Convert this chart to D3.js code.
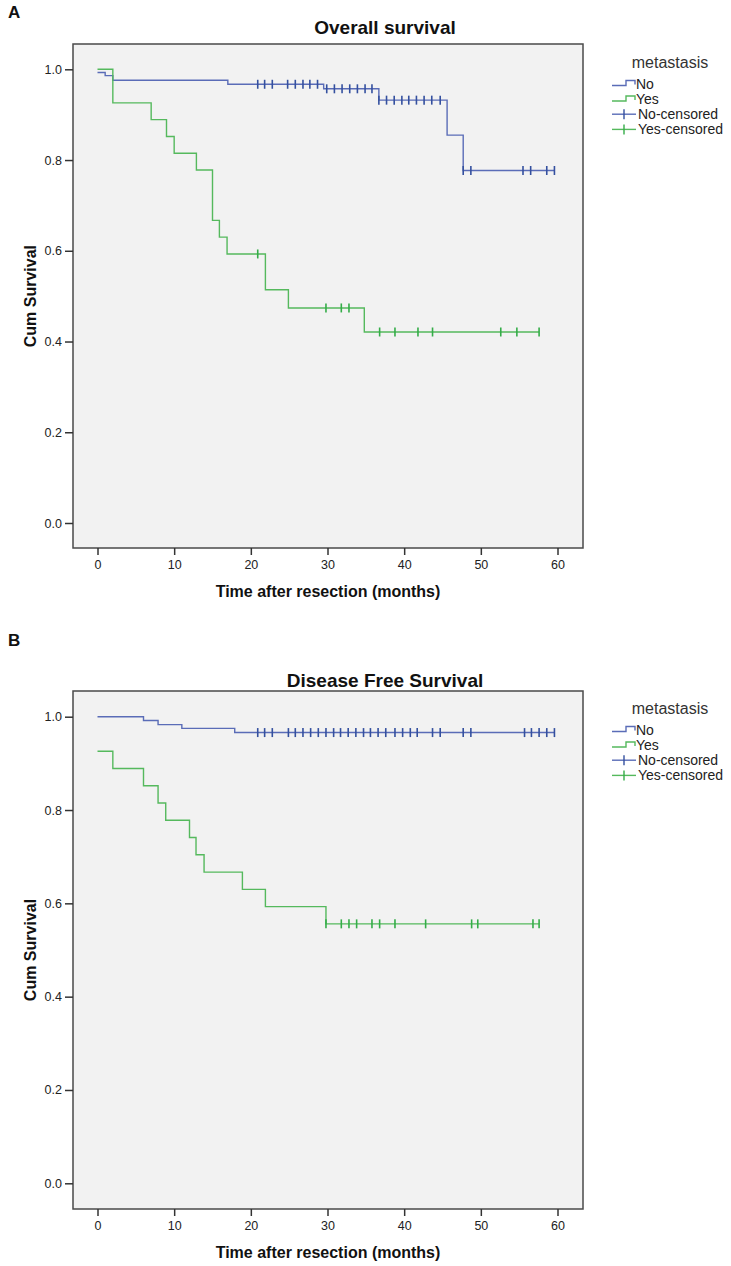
<!DOCTYPE html>
<html>
<head>
<meta charset="utf-8">
<script src="https://cdn.jsdelivr.net/npm/d3@7"></script>
<style>
  html, body { margin: 0; padding: 0; background: #ffffff; }
  svg { display: block; font-family: "Liberation Sans", Arial, sans-serif; }
</style>
</head>
<body>
<svg id="chart" width="731" height="1266"></svg>
<script>
// ---------------- data ----------------
const xTicks = [0, 10, 20, 30, 40, 50, 60];
const yTicks = [0.0, 0.2, 0.4, 0.6, 0.8, 1.0];
const groups = ["No", "Yes"];
const legendTitle = "metastasis";
const legendLabels = ["No", "Yes", "No-censored", "Yes-censored"];

// A: Overall survival
const osNoTimes = [0, 1, 2, 17, 29.5, 36.7, 45.6, 47.7];
const osNoSurv  = [0.993, 0.986, 0.976, 0.967, 0.957, 0.932, 0.855, 0.777];
const osNoCensored = [20.9, 21.8, 22.8, 24.8, 25.8, 26.8, 27.7, 28.7, 29.9, 30.9, 31.9, 32.9, 33.9, 34.9, 35.8,
  36.7, 37.7, 38.7, 39.7, 40.6, 41.6, 42.6, 43.6, 44.7, 47.7, 48.7, 55.5, 56.5, 58.6, 59.6];
const osYesTimes = [0, 2, 7, 9, 10, 12.9, 15, 15.9, 16.9, 21.9, 24.9, 34.8];
const osYesSurv  = [1.0, 0.926, 0.889, 0.852, 0.815, 0.778, 0.667, 0.630, 0.593, 0.514, 0.474, 0.421];
const osYesCensored = [20.9, 29.8, 31.8, 32.8, 36.8, 38.8, 41.8, 43.7, 52.6, 54.7, 57.6];

// B: Disease free survival
const dfsNoTimes = [0, 6, 7.9, 11, 17.9];
const dfsNoSurv  = [1.0, 0.992, 0.983, 0.975, 0.966];
const dfsNoCensored = [20.9, 21.8, 22.8, 24.9, 25.8, 26.8, 27.8, 28.8, 29.8, 30.8, 31.7, 32.7, 33.7, 34.7, 35.6,
  36.6, 37.6, 38.8, 39.8, 40.8, 41.7, 43.7, 44.7, 47.7, 48.7, 55.7, 56.6, 57.6, 58.6, 59.6];
const dfsYesTimes = [0, 2, 6, 7.9, 8.9, 12, 12.85, 13.9, 18.9, 21.9, 29.8];
const dfsYesSurv  = [0.926, 0.889, 0.852, 0.815, 0.778, 0.741, 0.704, 0.667, 0.630, 0.593, 0.556];
const dfsYesCensored = [29.8, 31.8, 32.8, 33.8, 35.8, 36.8, 38.8, 42.8, 48.8, 49.6, 56.8, 57.6];

// ---------------- styles ----------------
const lineColor = { No: "#5a6cb7", Yes: "#55b95d" };
const censorColor = { No: "#34509f", Yes: "#34ad48" };

const panels = [
  { letter: "A", title: "Overall survival", titleY: 34, letterY: 18,
    boxTop: 44, boxBottom: 548, y0: 523, y1: 69.3, legendY: 0,
    series: [
      { g: "No", t: osNoTimes, s: osNoSurv, c: osNoCensored },
      { g: "Yes", t: osYesTimes, s: osYesSurv, c: osYesCensored } ] },
  { letter: "B", title: "Disease Free Survival", titleY: 687, letterY: 646,
    boxTop: 691, boxBottom: 1209, y0: 1183.3, y1: 716.7, legendY: 646,
    series: [
      { g: "No", t: dfsNoTimes, s: dfsNoSurv, c: dfsNoCensored },
      { g: "Yes", t: dfsYesTimes, s: dfsYesSurv, c: dfsYesCensored } ] }
];

const svg = d3.select("#chart");
const boxLeft = 73, boxRight = 583;
const x = d3.scaleLinear().domain([0, 60]).range([97.5, 557.5]);

panels.forEach(p => {
  const y = d3.scaleLinear().domain([0, 1]).range([p.y0, p.y1]);
  const g = svg.append("g");

  // panel letter
  g.append("text").attr("x", 8).attr("y", p.letterY)
    .attr("font-size", 17).attr("font-weight", "bold").attr("fill", "#111").text(p.letter);

  // title
  g.append("text").attr("x", 385).attr("y", p.titleY).attr("text-anchor", "middle")
    .attr("font-size", 19).attr("font-weight", "bold").attr("fill", "#111").text(p.title);

  // plot box
  g.append("rect").attr("x", boxLeft).attr("y", p.boxTop)
    .attr("width", boxRight - boxLeft).attr("height", p.boxBottom - p.boxTop)
    .attr("fill", "#f2f2f2").attr("stroke", "#4a4a4a").attr("stroke-width", 1.5);

  // axes
  const yAxis = d3.axisLeft(y).tickValues(yTicks).tickFormat(d3.format(".1f")).tickSize(8).tickPadding(3);
  const ya = g.append("g").attr("transform", `translate(${boxLeft},0)`).call(yAxis);
  const xAxis = d3.axisBottom(x).tickValues(xTicks).tickFormat(d3.format("d")).tickSize(7).tickPadding(5);
  const xa = g.append("g").attr("transform", `translate(0,${p.boxBottom})`).call(xAxis);
  [ya, xa].forEach(a => {
    a.select(".domain").remove();
    a.selectAll(".tick line").attr("stroke", "#333").attr("stroke-width", 1.5);
    a.selectAll(".tick text").attr("font-size", 12.5).attr("fill", "#222")
      .attr("font-family", "'Liberation Sans', Arial, sans-serif");
  });

  // axis titles
  g.append("text").attr("x", 328).attr("y", p.boxBottom + 49).attr("text-anchor", "middle")
    .attr("font-size", 16).attr("font-weight", "bold").attr("fill", "#111")
    .text("Time after resection (months)");
  const cy = (p.y0 + p.y1) / 2;
  g.append("text").attr("transform", `translate(36,${cy}) rotate(-90)`).attr("text-anchor", "middle")
    .attr("font-size", 16).attr("font-weight", "bold").attr("fill", "#111").text("Cum Survival");

  // curves
  const line = d3.line().x(d => x(d[0])).y(d => y(d[1])).curve(d3.curveStepAfter);
  p.series.forEach(sr => {
    const pts = sr.t.map((t, i) => [t, sr.s[i]]);
    const end = d3.max(sr.c);
    pts.push([end, sr.s[sr.s.length - 1]]);
    g.append("path").datum(pts).attr("d", line).attr("fill", "none")
      .attr("stroke", lineColor[sr.g]).attr("stroke-width", 1.4);
    const survAt = t => { let v = sr.s[0]; sr.t.forEach((tt, i) => { if (tt <= t + 1e-9) v = sr.s[i]; }); return v; };
    g.selectAll(null).data(sr.c).enter().append("line")
      .attr("x1", d => x(d)).attr("x2", d => x(d))
      .attr("y1", d => y(survAt(d)) - 4.5).attr("y2", d => y(survAt(d)) + 4.5)
      .attr("stroke", censorColor[sr.g]).attr("stroke-width", 1.6);
  });

  // legend
  const lg = g.append("g").attr("transform", `translate(0,${p.legendY})`);
  lg.append("text").attr("x", 670).attr("y", 68).attr("text-anchor", "middle")
    .attr("font-size", 16).attr("fill", "#333").text(legendTitle);
  const rowY = [83.5, 99, 114.2, 129.4];
  legendLabels.forEach((lab, i) => {
    const grp = groups[i % 2];
    const yy = rowY[i];
    if (i < 2) {
      lg.append("path").attr("d", `M612,${yy + 2}H626V${yy - 3}H635V${yy + 1}`)
        .attr("fill", "none").attr("stroke", lineColor[grp]).attr("stroke-width", 1.4);
    } else {
      lg.append("line").attr("x1", 612).attr("x2", 636).attr("y1", yy).attr("y2", yy)
        .attr("stroke", lineColor[grp]).attr("stroke-width", 1.4);
      lg.append("line").attr("x1", 624).attr("x2", 624).attr("y1", yy - 5).attr("y2", yy + 5)
        .attr("stroke", censorColor[grp]).attr("stroke-width", 1.4);
    }
    lg.append("text").attr("x", i < 2 ? 636 : 638).attr("y", yy + 5)
      .attr("font-size", 14).attr("fill", "#222").text(lab);
  });
});
</script>
</body>
</html>
